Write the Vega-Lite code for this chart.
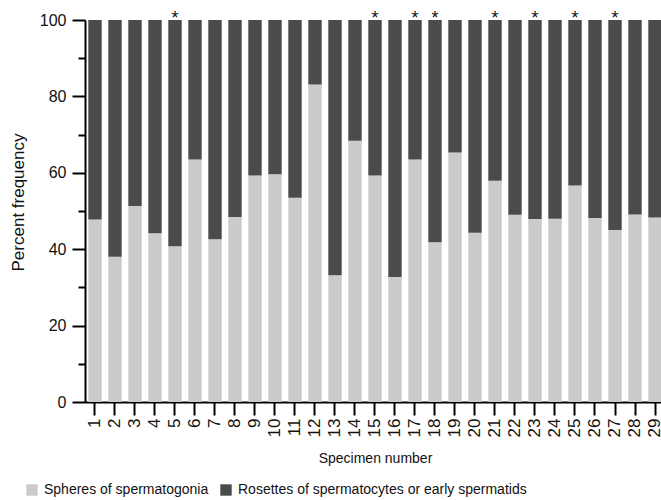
{
  "$schema": "https://vega.github.io/schema/vega-lite/v6.json",
  "width": 580,
  "height": 382,
  "autosize": "none",
  "padding": {"left": 85, "top": 20, "right": 0, "bottom": 98},
  "config": {
    "view": {"stroke": null},
    "font": "Liberation Sans",
    "axis": {"labelColor": "#111", "titleColor": "#111", "titleFontWeight": "normal", "grid": false}
  },
  "resolve": {"axis": {"y": "independent"}},
  "datasets": {
    "bars": [
      {"specimen": 1, "type": "Spheres of spermatogonia", "pct": 47.8},
      {"specimen": 1, "type": "Rosettes of spermatocytes or early spermatids", "pct": 52.2},
      {"specimen": 2, "type": "Spheres of spermatogonia", "pct": 38.0},
      {"specimen": 2, "type": "Rosettes of spermatocytes or early spermatids", "pct": 62.0},
      {"specimen": 3, "type": "Spheres of spermatogonia", "pct": 51.3},
      {"specimen": 3, "type": "Rosettes of spermatocytes or early spermatids", "pct": 48.7},
      {"specimen": 4, "type": "Spheres of spermatogonia", "pct": 44.2},
      {"specimen": 4, "type": "Rosettes of spermatocytes or early spermatids", "pct": 55.8},
      {"specimen": 5, "type": "Spheres of spermatogonia", "pct": 40.8},
      {"specimen": 5, "type": "Rosettes of spermatocytes or early spermatids", "pct": 59.2},
      {"specimen": 6, "type": "Spheres of spermatogonia", "pct": 63.5},
      {"specimen": 6, "type": "Rosettes of spermatocytes or early spermatids", "pct": 36.5},
      {"specimen": 7, "type": "Spheres of spermatogonia", "pct": 42.6},
      {"specimen": 7, "type": "Rosettes of spermatocytes or early spermatids", "pct": 57.4},
      {"specimen": 8, "type": "Spheres of spermatogonia", "pct": 48.4},
      {"specimen": 8, "type": "Rosettes of spermatocytes or early spermatids", "pct": 51.6},
      {"specimen": 9, "type": "Spheres of spermatogonia", "pct": 59.3},
      {"specimen": 9, "type": "Rosettes of spermatocytes or early spermatids", "pct": 40.7},
      {"specimen": 10, "type": "Spheres of spermatogonia", "pct": 59.6},
      {"specimen": 10, "type": "Rosettes of spermatocytes or early spermatids", "pct": 40.4},
      {"specimen": 11, "type": "Spheres of spermatogonia", "pct": 53.5},
      {"specimen": 11, "type": "Rosettes of spermatocytes or early spermatids", "pct": 46.5},
      {"specimen": 12, "type": "Spheres of spermatogonia", "pct": 83.1},
      {"specimen": 12, "type": "Rosettes of spermatocytes or early spermatids", "pct": 16.9},
      {"specimen": 13, "type": "Spheres of spermatogonia", "pct": 33.2},
      {"specimen": 13, "type": "Rosettes of spermatocytes or early spermatids", "pct": 66.8},
      {"specimen": 14, "type": "Spheres of spermatogonia", "pct": 68.4},
      {"specimen": 14, "type": "Rosettes of spermatocytes or early spermatids", "pct": 31.6},
      {"specimen": 15, "type": "Spheres of spermatogonia", "pct": 59.3},
      {"specimen": 15, "type": "Rosettes of spermatocytes or early spermatids", "pct": 40.7},
      {"specimen": 16, "type": "Spheres of spermatogonia", "pct": 32.7},
      {"specimen": 16, "type": "Rosettes of spermatocytes or early spermatids", "pct": 67.3},
      {"specimen": 17, "type": "Spheres of spermatogonia", "pct": 63.5},
      {"specimen": 17, "type": "Rosettes of spermatocytes or early spermatids", "pct": 36.5},
      {"specimen": 18, "type": "Spheres of spermatogonia", "pct": 41.8},
      {"specimen": 18, "type": "Rosettes of spermatocytes or early spermatids", "pct": 58.2},
      {"specimen": 19, "type": "Spheres of spermatogonia", "pct": 65.3},
      {"specimen": 19, "type": "Rosettes of spermatocytes or early spermatids", "pct": 34.7},
      {"specimen": 20, "type": "Spheres of spermatogonia", "pct": 44.3},
      {"specimen": 20, "type": "Rosettes of spermatocytes or early spermatids", "pct": 55.7},
      {"specimen": 21, "type": "Spheres of spermatogonia", "pct": 57.9},
      {"specimen": 21, "type": "Rosettes of spermatocytes or early spermatids", "pct": 42.1},
      {"specimen": 22, "type": "Spheres of spermatogonia", "pct": 49.0},
      {"specimen": 22, "type": "Rosettes of spermatocytes or early spermatids", "pct": 51.0},
      {"specimen": 23, "type": "Spheres of spermatogonia", "pct": 47.9},
      {"specimen": 23, "type": "Rosettes of spermatocytes or early spermatids", "pct": 52.1},
      {"specimen": 24, "type": "Spheres of spermatogonia", "pct": 48.0},
      {"specimen": 24, "type": "Rosettes of spermatocytes or early spermatids", "pct": 52.0},
      {"specimen": 25, "type": "Spheres of spermatogonia", "pct": 56.7},
      {"specimen": 25, "type": "Rosettes of spermatocytes or early spermatids", "pct": 43.3},
      {"specimen": 26, "type": "Spheres of spermatogonia", "pct": 48.2},
      {"specimen": 26, "type": "Rosettes of spermatocytes or early spermatids", "pct": 51.8},
      {"specimen": 27, "type": "Spheres of spermatogonia", "pct": 45.0},
      {"specimen": 27, "type": "Rosettes of spermatocytes or early spermatids", "pct": 55.0},
      {"specimen": 28, "type": "Spheres of spermatogonia", "pct": 49.1},
      {"specimen": 28, "type": "Rosettes of spermatocytes or early spermatids", "pct": 50.9},
      {"specimen": 29, "type": "Spheres of spermatogonia", "pct": 48.3},
      {"specimen": 29, "type": "Rosettes of spermatocytes or early spermatids", "pct": 51.7}
    ],
    "stars": [
      {"specimen": 5, "mark": "*"},
      {"specimen": 15, "mark": "*"},
      {"specimen": 17, "mark": "*"},
      {"specimen": 18, "mark": "*"},
      {"specimen": 21, "mark": "*"},
      {"specimen": 23, "mark": "*"},
      {"specimen": 25, "mark": "*"},
      {"specimen": 27, "mark": "*"}
    ]
  },
  "layer": [
    {
      "data": {"name": "bars"},
      "mark": {"type": "bar"},
      "encoding": {
        "x": {
          "field": "specimen",
          "type": "ordinal",
          "title": "Specimen number",
          "scale": {"paddingInner": 0.33, "paddingOuter": 0.165},
          "axis": {
            "labelAngle": 270,
            "labelAlign": "right",
            "labelBaseline": "middle",
            "labelFontSize": 17,
            "labelPadding": 3,
            "tickSize": 13,
            "tickWidth": 2,
            "tickColor": "#000",
            "domainWidth": 2,
            "domainColor": "#000",
            "titleFontSize": 14,
            "titlePadding": 15
          }
        },
        "y": {
          "field": "pct",
          "type": "quantitative",
          "stack": "zero",
          "title": "Percent frequency",
          "scale": {"domain": [0, 100], "nice": false},
          "axis": {
            "orient": "left",
            "values": [0, 20, 40, 60, 80, 100],
            "tickSize": 13,
            "tickWidth": 2,
            "tickColor": "#000",
            "domainWidth": 2,
            "domainColor": "#000",
            "labelFontSize": 16,
            "labelPadding": 6,
            "titleFontSize": 17,
            "titleAngle": 270,
            "titleAlign": "center",
            "titleBaseline": "middle",
            "titleX": -67,
            "titleY": 182
          }
        },
        "color": {
          "field": "type",
          "type": "nominal",
          "sort": ["Spheres of spermatogonia", "Rosettes of spermatocytes or early spermatids"],
          "scale": {
            "domain": ["Spheres of spermatogonia", "Rosettes of spermatocytes or early spermatids"],
            "range": ["#cbcbcb", "#4b4b4b"]
          },
          "legend": {
            "orient": "none",
            "direction": "horizontal",
            "legendX": -60,
            "legendY": 463,
            "title": null,
            "symbolType": "square",
            "symbolSize": 130,
            "symbolStrokeWidth": 0,
            "symbolOpacity": 1,
            "labelFontSize": 14,
            "labelLimit": 0,
            "labelColor": "#111",
            "labelOffset": 5,
            "columnPadding": 10
          }
        }
      }
    },
    {
      "data": {"name": "stars"},
      "mark": {"type": "text", "fontSize": 18, "baseline": "alphabetic", "dy": 4, "color": "#111"},
      "encoding": {
        "x": {"field": "specimen", "type": "ordinal"},
        "y": {
          "datum": 100,
          "type": "quantitative",
          "axis": {
            "orient": "left",
            "values": [10, 30, 50, 70, 90],
            "labels": false,
            "domain": false,
            "title": null,
            "tickSize": 7,
            "tickWidth": 2,
            "tickColor": "#000"
          }
        },
        "text": {"field": "mark"}
      }
    }
  ]
}
